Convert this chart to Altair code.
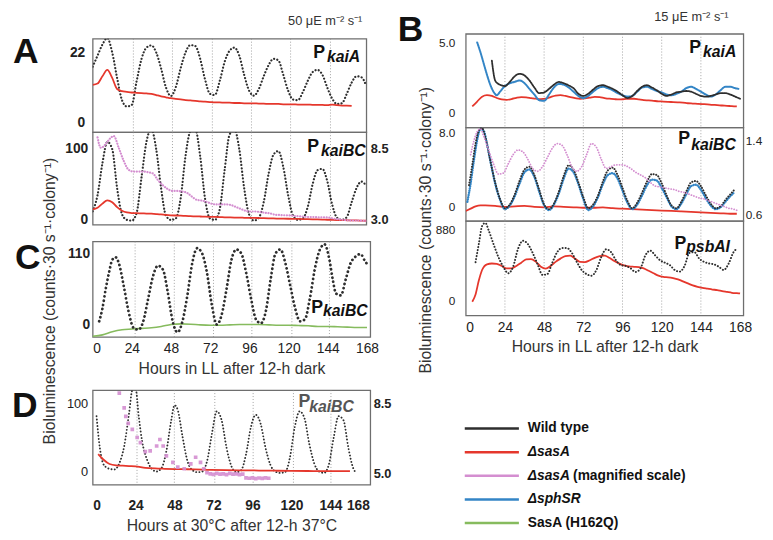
import altair as alt
import pandas as pd

FONT = "Liberation Sans"
C_WT = "#2e2e2e"
C_SASA = "#e5372c"
C_PINK = "#d48ed0"
C_BLUE = "#3385c6"
C_GREEN = "#86bb5e"
FRAME = "#6e6e6e"

H3 = list(range(0, 169, 3))
X_TICKS = [0, 24, 48, 72, 96, 120, 144, 168]

# ---------------- Panel A (50 uE) ----------------
A_TOP_WT = [17.5, 21, 24.5, 26.5, 22, 14, 7, 5, 5.5, 13, 20, 23.5, 24.2, 22, 17, 11, 8.3, 11, 17, 22,
            24.3, 24, 20, 13.5, 9, 8.6, 13, 19, 22.5, 23.5, 21, 15, 10, 8.4, 10.5, 14.5, 18, 20, 19.5, 15,
            10, 7.2, 7, 9.5, 13, 15.8, 16.5, 15, 11, 7.5, 5.8, 6, 9, 12.5, 14.5, 14.2, 11.4]
A_TOP_SASA = [11.8, 12.2, 14.5, 16.5, 14, 10.5, 9.8, 9.6, 9.4, 9.3, 9.2, 9.1, 9.0, 8.6, 8.2, 7.9, 7.6, 7.4,
              7.2, 7.0, 6.9, 6.8, 6.6, 6.5, 6.4, 6.3, 6.3, 6.2, 6.2, 6.1, 6.1, 6.0, 6.0, 6.0, 5.9, 5.9, 5.8,
              5.8, 5.8, 5.7, 5.7, 5.7, 5.6, 5.6, 5.6, 5.5, 5.5, 5.5, 5.4, 5.6, 5.4, 5.3, 5.3, 5.2]
A_BOT_WT = [12, 35, 80, 110, 100, 45, 8, 0, -1, 10, 60, 110, 128, 100, 45, 6, 0, 2, 30, 90, 125, 128, 90,
            30, 2, 0, 15, 70, 120, 128, 100, 45, 8, -1, 3, 25, 65, 92, 97, 75, 35, 6, 0, 2, 18, 50, 70, 72,
            55, 22, 3, 0, 4, 25, 45, 54, 48]
A_BOT_SASA = [15, 17, 23, 27.5, 25, 18, 13, 10.5, 9.7, 9.5, 9.2, 9.0, 8.7, 8.3, 7.8, 7, 6.5, 6.2, 6, 5.6,
              5.3, 5, 4.8, 4.5, 4.3, 4.1, 3.9, 3.7, 3.5, 3.3, 3.2, 3.0, 2.9, 2.8, 2.6, 2.4, 2.2, 2.0, 1.8,
              1.7, 1.6, 1.5, 1.4, 1.2, 1.0, 0.8, 0.6, 0.4, 0.2, 0.0, -0.2, -0.3, -0.5, -0.7, -0.8, -1, -1.2]
A_BOT_PINK_H = [3, 5, 13, 16, 19, 22, 25, 28, 31, 34, 37, 40, 43, 46, 49, 52, 55, 58, 61, 64, 67, 70, 73,
                76, 79, 82, 85, 88, 91, 94, 97, 100, 103, 106, 109, 112, 115, 118, 121, 124, 127, 130, 133,
                136, 139, 142, 145, 148, 151, 154, 157, 160, 163, 166, 168]
A_BOT_PINK = [9.4, 8.6, 9.5, 8.6, 7.6, 6.9, 6.75, 6.75, 6.75, 6.7, 6.6, 6.1, 5.7, 5.4, 5.25, 5.25, 5.2, 5.1,
              4.8, 4.55, 4.5, 4.4, 4.25, 4.2, 4.2, 4.2, 4.15, 4.0, 3.85, 3.7, 3.65, 3.65, 3.6, 3.55, 3.5,
              3.4, 3.38, 3.36, 3.35, 3.3, 3.28, 3.25, 3.22, 3.22, 3.2, 3.2, 3.18, 3.1, 3.05, 3.0, 2.97,
              2.95, 2.95, 2.93, 2.92]
GRID_A = [25, 49, 73.5, 97.5, 121.5, 146]

# ---------------- Panel B (15 uE) ----------------
B_TOP_BLUE_H = [7, 9, 11, 13, 15, 17, 19, 21, 24, 27, 30, 33, 36, 39, 42, 45, 48, 51, 54, 57, 60, 63, 66,
                69, 72, 75, 78, 81, 84, 87, 90, 93, 96, 99, 102, 105, 108, 111, 114, 117, 120, 123, 126,
                129, 132, 135, 138, 141, 144, 147, 150, 153, 156, 159, 162, 165, 167]
B_TOP_BLUE = [5.0, 4.3, 3.5, 2.7, 2.0, 1.5, 1.25, 1.5, 1.9, 2.1, 2.2, 2.3, 2.1, 1.7, 1.3, 0.9, 0.85, 1.3,
              1.8, 2.05, 2.0, 1.8, 1.5, 1.2, 1.05, 1.2, 1.5, 1.75, 1.85, 1.75, 1.6, 1.4, 1.25, 1.15, 1.2,
              1.5, 1.8, 1.85, 1.7, 1.55, 1.45, 1.3, 1.25, 1.35, 1.5, 1.75, 1.85, 1.7, 1.5, 1.3, 1.15, 1.3,
              1.6, 1.85, 1.85, 1.75, 1.7]
B_TOP_WT_H = [16, 18, 20, 22, 24, 27, 30, 33, 36, 39, 42, 45, 48, 51, 54, 57, 60, 63, 66, 69, 72, 75, 78,
              81, 84, 87, 90, 93, 96, 99, 102, 105, 108, 111, 114, 117, 120, 123, 126, 129, 132, 135, 138,
              141, 144, 147, 150, 153, 156, 159, 162, 165, 168]
B_TOP_WT = [3.7, 2.3, 2.05, 1.95, 1.9, 2.2, 2.6, 2.77, 2.65, 2.3, 1.8, 1.4, 1.45, 1.7, 2.0, 2.19, 2.1, 1.95,
            1.75, 1.35, 1.2, 1.35, 1.65, 1.9, 1.96, 1.85, 1.7, 1.5, 1.25, 1.05, 1.2, 1.55, 1.85, 1.96, 1.8,
            1.6, 1.35, 1.2, 1.3, 1.45, 1.5, 1.55, 1.5, 1.35, 1.2, 1.15, 1.2, 1.3, 1.4, 1.4, 1.3, 1.15, 1.0]
B_TOP_SASA_H = [4, 7, 10, 13, 16, 19, 22, 25, 28, 31, 34, 37, 40, 43, 46, 49, 52, 55, 58, 61, 64, 67, 70,
                73, 76, 79, 82, 85, 88, 91, 94, 97, 100, 103, 106, 109, 112, 115, 118, 121, 124, 127, 130,
                133, 136, 139, 142, 145, 148, 151, 154, 157, 160, 163, 166]
B_TOP_SASA = [0.45, 0.8, 1.15, 1.26, 1.2, 1.05, 0.95, 0.92, 0.98, 1.07, 1.12, 1.1, 1.05, 1.0, 0.97, 1.0,
              1.12, 1.22, 1.25, 1.2, 1.12, 1.05, 1.0, 1.02, 1.08, 1.14, 1.12, 1.05, 1.0, 0.97, 0.95, 0.97,
              1.0, 1.0, 0.95, 0.9, 0.88, 0.85, 0.82, 0.8, 0.78, 0.76, 0.74, 0.72, 0.68, 0.66, 0.64, 0.62,
              0.6, 0.57, 0.55, 0.52, 0.5, 0.47, 0.45]

B_MID_WT_H = [2, 4, 6, 8, 10, 12, 15, 18, 21, 24, 27, 30, 33, 36, 39, 42, 45, 48, 51, 54, 57, 60, 63, 66,
              69, 72, 75, 78, 81, 84, 87, 90, 93, 96, 99, 102, 105, 108, 111, 114, 117, 120, 123, 126, 129,
              132, 135, 138, 141, 144, 147, 150, 153, 156, 159, 162, 165]
B_MID_WT = [2.3, 4.5, 6.8, 8.2, 8.5, 7.5, 5.0, 2.6, 0.8, -0.2, 0.2, 1.3, 2.8, 4.0, 4.3, 3.4, 1.8, 0.2, -0.3,
            0.3, 1.6, 3.3, 4.45, 4.0, 2.6, 1.0, -0.2, 0.2, 1.2, 2.7, 3.9, 4.2, 3.4, 2.0, 0.6, -0.2, 0.4,
            1.5, 2.7, 3.5, 3.4, 2.5, 1.2, 0.1, -0.2, 0.5, 1.6, 2.6, 2.75, 2.2, 1.2, 0.3, -0.2, 0.0, 0.7,
            1.3, 1.9]
B_MID_BLUE_H = [1, 3, 5, 7, 9, 11, 13, 15, 18, 21, 24, 27, 30, 33, 36, 39, 42, 45, 48, 51, 54, 57, 60, 63,
                66, 69, 72, 75, 78, 81, 84, 87, 90, 93, 96, 99, 102, 105, 108, 111, 114, 117, 120, 123,
                126, 129, 132, 135, 138, 141, 144, 147, 150, 153, 156, 159, 162, 164]
B_MID_BLUE = [0.5, 2.5, 5.0, 7.2, 8.4, 8.2, 6.8, 5.0, 2.5, 0.7, -0.3, 0.1, 1.1, 2.5, 3.7, 4.0, 3.2, 1.6,
              0.1, -0.4, 0.2, 1.4, 3.0, 4.1, 3.7, 2.4, 0.8, -0.4, 0.0, 1.0, 2.4, 3.4, 3.6, 3.0, 1.7, 0.4,
              -0.3, 0.2, 1.2, 2.3, 2.9, 2.8, 2.0, 1.0, 0.0, -0.3, 0.3, 1.3, 2.2, 2.35, 1.8, 0.9, 0.1, -0.3,
              -0.1, 0.5, 1.1, 1.45]
B_MID_SASA_H = [0, 3, 6, 9, 12, 18, 24, 30, 36, 42, 48, 54, 60, 66, 72, 78, 84, 90, 96, 102, 108, 114,
                120, 126, 132, 138, 144, 150, 156, 162, 166]
B_MID_SASA = [-0.5, -0.25, 0.0, 0.1, 0.1, 0.05, -0.05, 0.0, 0.05, -0.05, -0.1, 0.0, -0.05, -0.1, -0.15,
              -0.15, -0.1, -0.2, -0.25, -0.3, -0.35, -0.4, -0.45, -0.5, -0.55, -0.6, -0.65, -0.7, -0.75,
              -0.8, -0.8]
B_MID_PINK_H = [3, 5, 7, 9, 11, 14, 17, 20, 23, 26, 29, 32, 35, 38, 41, 44, 47, 50, 53, 56, 59, 62, 65,
                68, 71, 74, 77, 80, 83, 86, 89, 92, 95, 98, 101, 104, 107, 110, 113, 116, 119, 122, 125,
                128, 131, 134, 137, 140, 143, 146, 149, 152, 155, 158, 161, 164, 167]
B_MID_PINK = [1.25, 1.4, 1.5, 1.53, 1.45, 1.3, 1.15, 1.04, 1.05, 1.15, 1.25, 1.3, 1.28, 1.2, 1.1, 1.07,
              1.12, 1.22, 1.32, 1.37, 1.35, 1.25, 1.12, 1.07, 1.12, 1.25, 1.37, 1.33, 1.2, 1.1, 1.12, 1.14,
              1.14, 1.13, 1.1, 1.06, 1.03, 1.0, 0.95, 0.91, 0.9, 0.89, 0.88, 0.87, 0.85, 0.84, 0.82, 0.8,
              0.78, 0.77, 0.75, 0.73, 0.71, 0.69, 0.67, 0.66, 0.64]

B_BOT_WT_H = [6, 8, 10, 12, 14, 17, 20, 23, 26, 29, 32, 35, 38, 41, 44, 47, 50, 53, 56, 59, 62, 65, 68,
              71, 74, 77, 80, 83, 86, 89, 92, 95, 98, 101, 104, 107, 110, 113, 116, 119, 122, 125, 128,
              131, 134, 137, 140, 143, 146, 149, 152, 155, 158, 161, 164, 166]
B_BOT_WT = [476, 700, 920, 960, 870, 700, 540, 420, 340, 420, 640, 740, 700, 590, 450, 320, 330, 470, 600,
            650, 650, 590, 480, 380, 330, 310, 380, 540, 635, 600, 500, 440, 430, 400, 355, 400, 560, 618,
            560, 500, 470, 440, 380, 360, 430, 590, 600, 520, 480, 460, 450, 420, 380, 460, 600, 640]
B_BOT_SASA_H = [4, 6, 8, 10, 13, 16, 19, 22, 25, 28, 31, 34, 37, 40, 43, 46, 49, 52, 55, 58, 61, 64, 67,
                70, 73, 76, 79, 82, 85, 88, 91, 94, 97, 100, 103, 106, 109, 112, 115, 118, 121, 124, 127,
                130, 133, 136, 139, 142, 145, 148, 151, 154, 157, 160, 163, 166, 168]
B_BOT_SASA = [-10, 80, 250, 380, 450, 460, 455, 430, 400, 400, 430, 470, 510, 515, 480, 420, 396, 430, 480,
              520, 550, 557, 520, 480, 478, 500, 530, 550, 557, 530, 490, 460, 436, 425, 420, 416, 400, 370,
              340, 310, 295, 290, 280, 265, 240, 215, 190, 173, 160, 150, 140, 133, 120, 110, 100, 95, 92]
GRID_B = [24, 48, 72, 96, 120, 144]

# ---------------- Panel C ----------------
C_WT_H = [4, 6, 8, 10, 12, 14, 16, 19, 22, 25, 28, 31, 34, 37, 40, 43, 46, 49, 52, 55, 58, 61, 64, 67, 70,
          73, 76, 79, 82, 85, 88, 91, 94, 97, 100, 103, 106, 109, 112, 115, 118, 121, 124, 127, 130, 133,
          136, 139, 142, 145, 147, 149, 152, 155, 158, 161, 164, 167, 169]
C_WT_V = [5, 25, 55, 80, 100, 104, 95, 60, 20, -5, -8, 5, 40, 75, 91, 85, 50, 5, -12, 5, 45, 95, 118, 110,
          80, 30, 0, 15, 55, 100, 116, 110, 80, 40, 8, 2, 20, 70, 110, 116, 95, 60, 25, 5, 8, 40, 85, 115,
          124, 100, 70, 48, 45, 70, 95, 105, 109, 97, 91]
C_H162Q_H = [0, 6, 12, 18, 24, 30, 36, 42, 48, 54, 60, 66, 72, 78, 84, 90, 96, 102, 108, 114, 120, 126, 132,
             138, 144, 150, 156, 162, 168]
C_H162Q = [-18, -16, -11, -8, -7, -6, -5, -3, 0, 1, 0.5, -0.5, -1, -1, -0.5, 0, 0, 0, -0.5, -1, -1, -1.5,
           -2, -3, -3, -3.5, -4, -4.5, -4.5]
GRID_C = [26, 50, 74, 97.5, 122, 145]

# ---------------- Panel D ----------------
D_WT_H = [0, 2, 4, 6, 8, 11, 14, 17, 20, 22, 24, 26, 28, 31, 34, 37, 40, 43, 46, 48, 50, 53, 56, 59, 62,
          65, 68, 71, 74, 77, 80, 83, 86, 89, 92, 95, 98, 101, 104, 107, 110, 113, 116, 119, 122, 125, 128,
          131, 134, 137, 140, 143, 146, 149, 152, 155, 158, 160]
D_WT_V = [81, 35, 12, 6, 4, 3, 12, 37, 85, 119, 122, 80, 45, 18, 4, 0, 5, 30, 75, 97, 90, 50, 15, 2, -1, 0,
          15, 55, 88, 75, 35, 8, -1, 2, 25, 65, 83, 70, 35, 10, 0, -2, -1, 20, 65, 88, 78, 40, 12, 0, -2,
          10, 50, 81, 75, 35, 5, -2]
D_SASA_H = [1, 4, 8, 12, 16, 20, 24, 30, 36, 42, 48, 54, 60, 70, 80, 90, 100, 110, 120, 130, 140, 150, 156]
D_SASA = [25.5, 18, 11, 9, 8.5, 8, 7.5, 5.5, 4.5, 4, 3.6, 3.4, 3.2, 2.5, 2, 1.8, 1.5, 1.2, 1, 0.8, 0.6,
          0.5, 0.5]
D_PINK_H = [14, 17, 18, 19.5, 22, 25, 27, 30, 33, 37, 39, 41, 43, 47, 50, 54, 58, 61, 64, 66, 68, 70, 72,
            74, 76, 78, 80, 82, 84, 86, 88, 90, 92, 94, 96, 98, 100, 102, 104, 106]
D_PINK = [9.0, 8.27, 7.85, 7.5, 7.2, 6.8, 6.55, 6.1, 6.14, 6.38, 6.7, 6.38, 5.89, 5.57, 5.33, 5.25, 5.49,
          5.82, 5.57, 5.25, 5.05, 5.0, 4.97, 5.02, 4.98, 5.0, 4.96, 5.02, 4.98, 5.0, 4.96, 4.98, 4.8, 4.78,
          4.8, 4.76, 4.79, 4.77, 4.8, 4.78]
GRID_D = [24.9, 47.9, 72.8, 96.4, 121.2, 144.3]

# ---------------- Legend ----------------
LEG_ROW = [0, 1, 2, 3, 4]
LEG_LABEL = ["Wild type", "ΔsasA", "ΔsasA", "ΔsphSR", "SasA (H162Q)"]
LEG_SUFFIX = ["", "", "(magnified scale)", "", ""]
LEG_ITALIC = [False, True, True, True, False]
LEG_COLOR = [C_WT, C_SASA, C_PINK, C_BLUE, C_GREEN]

YTITLE = "Bioluminescence (counts·30 s⁻¹·colony⁻¹)"


def frame(hours, values):
    assert len(hours) == len(values)
    return pd.DataFrame({"h": hours, "v": values})


def xenc(domain, axis=None):
    return alt.X("h:Q", scale=alt.Scale(domain=domain, nice=False, zero=False), axis=axis)


def yenc(domain, axis):
    return alt.Y("v:Q", scale=alt.Scale(domain=domain, nice=False, zero=False), axis=axis)


def grid(hours, X):
    return alt.Chart(pd.DataFrame({"h": hours})).mark_rule(
        color="#8a8a8a", strokeWidth=0.8, strokeDash=[1, 2]).encode(x=X)


def dotted(d, X, Y, color=C_WT, width=2.2, dash=(0.1, 3.3), opacity=1.0):
    return alt.Chart(d).mark_line(color=color, strokeWidth=width, strokeDash=list(dash), strokeCap="round",
                                  interpolate="monotone", opacity=opacity, clip=True).encode(x=X, y=Y)


def solid(d, X, Y, color, width=1.8):
    return alt.Chart(d).mark_line(color=color, strokeWidth=width, interpolate="monotone",
                                  clip=True).encode(x=X, y=Y)


def txt(t, x, y, size, weight="bold", style="normal", align="left", color="#111"):
    return alt.Chart(pd.DataFrame({"t": [t]})).mark_text(
        align=align, baseline="alphabetic", fontSize=size, fontWeight=weight, fontStyle=style,
        color=color).encode(x=alt.value(x), y=alt.value(y), text="t:N")


def left_axis(values, pad, size, bold, fmt=None, expr=None, **kw):
    args = dict(values=values, labelPadding=pad, labelFontSize=size,
                labelFontWeight="bold" if bold else "normal", title=None)
    if fmt:
        args["format"] = fmt
    if expr:
        args["labelExpr"] = expr
    args.update(kw)
    return alt.Axis(**args)


def right_axis(values, pad, size, bold):
    return alt.Axis(orient="right", values=values, format=".1f", labelPadding=pad, labelFontSize=size,
                    labelFontWeight="bold" if bold else "normal", title=None)


def spacer(h):
    return alt.Chart(pd.DataFrame({"h": [0]})).mark_point(opacity=0).encode(
        x=alt.X("h:Q", axis=None), y=alt.Y("h:Q", axis=None)
    ).properties(width=1, height=h, view=alt.ViewBackground(strokeWidth=0))


ONE_DEC = "datum.value == 0 ? '0' : format(datum.value, '.1f')"

# ---- A top
XA = xenc([0, 168])
YA1 = yenc([-3.1, 26.3], left_axis([0, 22], 8, 14, True))
a_top = alt.layer(
    grid(GRID_A, XA),
    dotted(frame(H3, A_TOP_WT), XA, YA1),
    solid(frame(H3[:len(A_TOP_SASA)], A_TOP_SASA), XA, YA1, C_SASA),
    txt("A", -68, 25, 36, align="center"),
    txt("50 μE m⁻² s⁻¹", 274, -14, 13, weight="normal", align="right", color="#333"),
    txt("P", 224, 20, 18),
    txt("kaiA", 238, 24, 16, style="italic"),
).properties(width=278, height=95)

# ---- A bottom
YA2 = yenc([-6.9, 123.6], left_axis([0, 100], 5, 14, True))
YA2R = yenc([2.62, 9.80], right_axis([3.0, 8.5], 4, 13, True))
a_bot = alt.layer(
    alt.layer(
        grid(GRID_A, XA),
        dotted(frame(H3, A_BOT_WT), XA, YA2),
        solid(frame(H3, A_BOT_SASA), XA, YA2, C_SASA),
        txt("P", 218, 20, 18),
        txt("kaiBC", 232, 24, 16, style="italic"),
    ),
    dotted(frame(A_BOT_PINK_H, A_BOT_PINK), XA, YA2R, color=C_PINK, width=2.2, dash=(0.1, 2.6)),
).resolve_scale(y="independent").properties(width=278, height=94)

# ---- C
XC = xenc([0, 170], alt.Axis(values=X_TICKS, title="Hours in LL after 12-h dark", labelPadding=5,
                             titlePadding=5, labelFontSize=14, titleFontSize=16))
YC = yenc([-19.3, 128.3], left_axis([0, 110], 3, 14, True, title=YTITLE, titleX=-44, titleY=60,
                                   titleAngle=270, titleAlign="center", titleBaseline="middle",
                                   titleFontSize=16, titleFontWeight="normal", titleColor="#333"))
c_panel = alt.layer(
    grid(GRID_C, XC),
    solid(frame(C_H162Q_H, C_H162Q), XC, YC, C_GREEN, 1.6),
    dotted(frame(C_WT_H, C_WT_V), XC, YC, width=2.8, dash=(0.1, 4.2)),
    txt("C", -66, 28, 36, align="center"),
    txt("P", 222, 73, 18),
    txt("kaiBC", 234, 76, 16, style="italic"),
).properties(width=282, height=97)

# ---- D
XD = xenc([-2.4, 168.5], alt.Axis(values=X_TICKS, title="Hours at 30°C after 12-h 37°C", labelPadding=14,
                                  titlePadding=6, labelFontSize=14, labelFontWeight="bold",
                                  titleFontSize=16))
YD = yenc([-19.2, 119], left_axis([0, 100], 5, 13, False))
YDR = yenc([4.46, 9.15], right_axis([5.0, 8.5], 3, 13, True))
d_panel = alt.layer(
    alt.layer(
        grid(GRID_D, XD),
        dotted(frame(D_WT_H, D_WT_V), XD, YD, width=1.9, dash=(0.1, 3.2)),
        solid(frame(D_SASA_H, D_SASA), XD, YD, C_SASA, 1.8),
        txt("D", -69, 27, 36, align="center"),
        txt("P", 209, 17, 18, color="#555"),
        txt("kaiBC", 220, 22, 16, style="italic", color="#555"),
    ),
    alt.Chart(frame(D_PINK_H, D_PINK)).mark_square(size=14, color=C_PINK, opacity=0.9, clip=True)
    .encode(x=XD, y=YDR),
).resolve_scale(y="independent").properties(width=282, height=96)

# ---- B top
XB = xenc([0, 170])
YB1 = yenc([-1.03, 5.61], left_axis([0, 5], 11, 12, False, expr=ONE_DEC))
b1 = alt.layer(
    grid(GRID_B, XB),
    solid(frame(B_TOP_SASA_H, B_TOP_SASA), XB, YB1, C_SASA, 1.8),
    dotted(frame(B_TOP_BLUE_H, B_TOP_BLUE), XB, YB1, color=C_BLUE, width=2.0, dash=(1.5, 0.9)),
    dotted(frame(B_TOP_WT_H, B_TOP_WT), XB, YB1, width=1.8, dash=(1.5, 0.9)),
    txt("B", -56, 7, 36, align="center"),
    txt("15 μE m⁻² s⁻¹", 267, -13, 13, weight="normal", align="right", color="#333"),
    txt("P", 227, 19, 18),
    txt("kaiA", 241, 24, 16, style="italic"),
).properties(width=282, height=95)

# ---- B middle
YB2 = yenc([-1.57, 8.57], left_axis([0, 8], 11, 12, False, expr=ONE_DEC, title=YTITLE, titleX=-41,
                                   titleY=104, titleAngle=270, titleAlign="center",
                                   titleBaseline="middle", titleFontSize=16, titleFontWeight="normal",
                                   titleColor="#333"))
YB2R = yenc([0.533, 1.546], right_axis([0.6, 1.4], 2, 12, False))
b2 = alt.layer(
    alt.layer(
        grid(GRID_B, XB),
        solid(frame(B_MID_SASA_H, B_MID_SASA), XB, YB2, C_SASA, 1.8),
        dotted(frame(B_MID_BLUE_H, B_MID_BLUE), XB, YB2, color=C_BLUE, width=2.4, dash=(0.1, 2.2)),
        dotted(frame(B_MID_WT_H, B_MID_WT), XB, YB2, width=2.0, dash=(0.1, 2.6)),
        txt("P", 216, 17, 18),
        txt("kaiBC", 229, 23, 16, style="italic"),
    ),
    dotted(frame(B_MID_PINK_H, B_MID_PINK), XB, YB2R, color=C_PINK, width=1.8, dash=(0.1, 2.6)),
).resolve_scale(y="independent").properties(width=282, height=95)

# ---- B bottom
XB3 = xenc([0, 170], alt.Axis(values=X_TICKS, title="Hours in LL after 12-h dark", labelPadding=5,
                              titlePadding=5, labelFontSize=14, titleFontSize=16))
YB3 = yenc([-178, 985], left_axis([0, 880], 11, 12, False))
b3 = alt.layer(
    grid(GRID_B, XB3),
    solid(frame(B_BOT_SASA_H, B_BOT_SASA), XB3, YB3, C_SASA, 1.8),
    dotted(frame(B_BOT_WT_H, B_BOT_WT), XB3, YB3, width=2.0, dash=(0.1, 3.0)),
    txt("P", 212, 29, 18),
    txt("psbAI", 224, 32, 16, style="italic"),
).properties(width=282, height=96)

# ---- Legend
leg = pd.DataFrame({"row": LEG_ROW, "label": LEG_LABEL, "suffix": LEG_SUFFIX, "italic": LEG_ITALIC,
                    "color": LEG_COLOR})
LY = alt.Y("row:Q", scale=alt.Scale(domain=[-0.5, 4.5], reverse=True), axis=None)
legend = alt.layer(
    alt.Chart(leg).mark_rule(strokeWidth=2.5).encode(
        x=alt.value(-1), x2=alt.value(54), y=LY, color=alt.Color("color:N", scale=None)),
    alt.Chart(leg).transform_filter("!datum.italic").mark_text(
        align="left", baseline="middle", fontSize=14, fontWeight="bold", color="#111").encode(
        x=alt.value(63), y=LY, text="label:N"),
    alt.Chart(leg).transform_filter("datum.italic").mark_text(
        align="left", baseline="middle", fontSize=14, fontWeight="bold", fontStyle="italic",
        color="#111").encode(x=alt.value(63), y=LY, text="label:N"),
    alt.Chart(leg).transform_filter("datum.suffix != ''").mark_text(
        align="left", baseline="middle", fontSize=14, fontWeight="bold", color="#111").encode(
        x=alt.value(109), y=LY, text="suffix:N"),
).properties(width=282, height=120, view=alt.ViewBackground(strokeWidth=0))

left = alt.vconcat(spacer(5), a_top, a_bot, spacer(17), c_panel, spacer(54), d_panel,
                   spacing=0, bounds="flush")
right = alt.vconcat(b1, b2, b3, spacer(103), legend, spacing=0, bounds="flush")

chart = alt.hconcat(left, right, spacing=5).properties(
    padding={"left": 3, "top": -2, "right": 2, "bottom": 2}
).configure(font=FONT).configure_axis(
    ticks=False, tickSize=0, domain=False, grid=False, labelColor="#222", titleColor="#333",
    labelFont=FONT, titleFont=FONT, titleFontWeight="normal"
).configure_view(stroke=FRAME, strokeWidth=1.3)

chart.save("out.html", embed_options={"renderer": "svg", "actions": False})
